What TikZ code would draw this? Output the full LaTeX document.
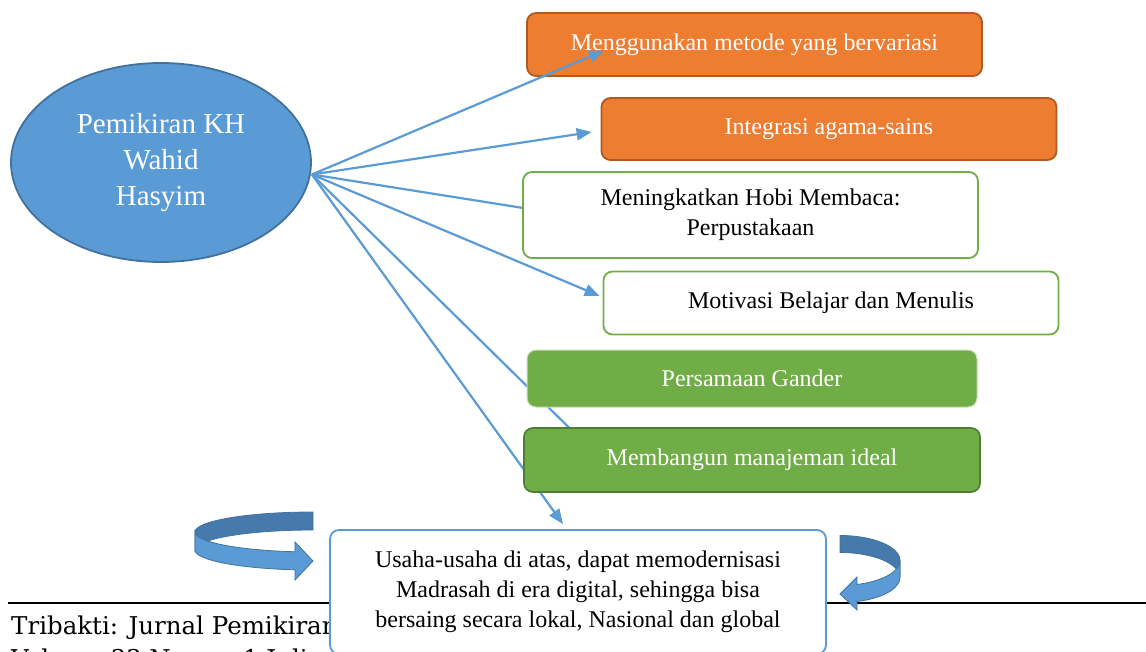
\documentclass[tikz,border=0pt]{standalone}
\usepackage{fontspec}
\setmainfont{Liberation Serif}
\newfontfamily\footerfont{DejaVu Serif}
\usetikzlibrary{arrows.meta,positioning,calc,shapes.geometric}
\definecolor{blueA}{HTML}{5B9BD5}
\definecolor{blueD}{HTML}{41719C}
\definecolor{blueM}{RGB}{70,122,172}
\definecolor{orangeA}{HTML}{ED7D31}
\definecolor{orangeD}{HTML}{AE5A21}
\definecolor{greenA}{HTML}{70AD47}
\definecolor{greenL}{HTML}{C5E0B4}
\definecolor{greenD}{HTML}{507E32}
\pgfdeclarelayer{back}
\pgfdeclarelayer{mid}
\pgfsetlayers{back,mid,main}
\tikzset{
  box/.style={rectangle, rounded corners=9pt, line width=1.8pt, minimum width=455pt,
    minimum height=63pt, align=center, font=\fontsize{24}{30}\selectfont},
  orangebox/.style={box, draw=orangeD, fill=orangeA, text=white},
  greenbox/.style={box, fill=greenA, text=white},
  whitebox/.style={box, draw=greenA, fill=white},
  link/.style={draw=blueA, line width=2.2pt, -{Triangle[length=15pt,width=12pt]}},
  footer/.style={inner sep=0pt, font=\footerfont\fontsize{24.5}{30}\selectfont},
}

\begin{document}
\begin{tikzpicture}[x=1pt, y=-1pt]
  \useasboundingbox (0,0) rectangle (1146,652);
  \clip (0,0) rectangle (1146,652);

  \begin{pgfonlayer}{back}
  % Footer of the page
  \draw[line width=2pt] (8,603) -- (1146,603);
  \node[footer, anchor=base west] (jurnal) at (11,634) {Tribakti: Jurnal Pemikiran};
  \node[footer, anchor=base west] (volume) at (11,667) {Volume 33 Nomor 1 Juli};

  % Main idea
  \node[ellipse, draw=blueD, fill=blueA, line width=1.8pt, text=white,
    minimum width=300pt, minimum height=199pt, align=center,
    font=\fontsize{29}{36}\selectfont] (hasyim) at (161,162.5) {Pemikiran KH\\Wahid\\Hasyim};

  % Boxes under the arrows
  \node[orangebox] (metode) at (754.5,44.5) {Menggunakan metode yang bervariasi};
  \node[orangebox, minimum height=62pt] (sains) at (829,129) {Integrasi agama-sains};
  \node[whitebox] (motivasi) at (831,303) {Motivasi Belajar dan Menulis};
  \end{pgfonlayer}

  % Boxes over the arrows
  \node[whitebox, minimum height=86pt] (membaca) at (750.5,215) {Meningkatkan Hobi Membaca:\\Perpustakaan};
  \node[greenbox, draw=greenL, line width=1pt, minimum width=450pt, minimum height=57pt] (gander) at (752,378.5) {Persamaan Gander};
  \node[greenbox, draw=greenD, minimum width=456pt, minimum height=64pt] (manajemen) at (752,460) {Membangun manajeman ideal};
  \node[box, draw=blueA, fill=white, minimum width=496pt, minimum height=124pt] (usaha) at (578,592)
    {Usaha-usaha di atas, dapat memodernisasi\\Madrasah di era digital, sehingga bisa\\bersaing secara lokal, Nasional dan global};

  % Arrows from the main idea
  \coordinate (src) at ([yshift=-12pt]hasyim.east);
  \begin{pgfonlayer}{mid}
  \draw[link] (src) -- ($(metode.west)+(78,6)$);
  \draw[link] (src) -- ($(sains.west)+(-9,3)$);
  \draw[link] (src) -- ($(membaca.west)+(20,-4)$);
  \draw[link] (src) -- ($(motivasi.west)+(-3,-7)$);
  \draw[link] (src) -- ($(manajemen.west)+(89,10)$);
  \draw[link] (src) -- ($(usaha.north)+(-15,-5)$);
  \end{pgfonlayer}

  % Curved arrow on the left
  \filldraw[fill=blueM, draw=blueD, line width=0.8pt] (313,512)
    arc[start angle=270, end angle=180, x radius=118, y radius=20] -- ++(0,18)
    arc[start angle=180, end angle=270, x radius=118, y radius=20] -- cycle;
  \filldraw[fill=blueA, draw=blueD, line width=0.8pt] (195,532)
    arc[start angle=180, end angle=98.8, x radius=118, y radius=20]
    -- (295,542) -- (313,561) -- (295,580) -- (295,569.8)
    arc[start angle=98.8, end angle=180, x radius=118, y radius=20] -- cycle;

  % Curved arrow on the right
  \filldraw[fill=blueM, draw=blueD, line width=0.8pt] (840,535.5)
    arc[start angle=270, end angle=360, x radius=60, y radius=25] -- ++(0,17)
    arc[start angle=0, end angle=-90, x radius=60, y radius=25] -- cycle;
  \filldraw[fill=blueA, draw=blueD, line width=0.8pt] (900,560.5)
    arc[start angle=0, end angle=73.5, x radius=60, y radius=25]
    -- (857,577) -- (840,594) -- (857,610) -- (857,601.5)
    arc[start angle=73.5, end angle=0, x radius=60, y radius=25] -- cycle;
\end{tikzpicture}
\end{document}
